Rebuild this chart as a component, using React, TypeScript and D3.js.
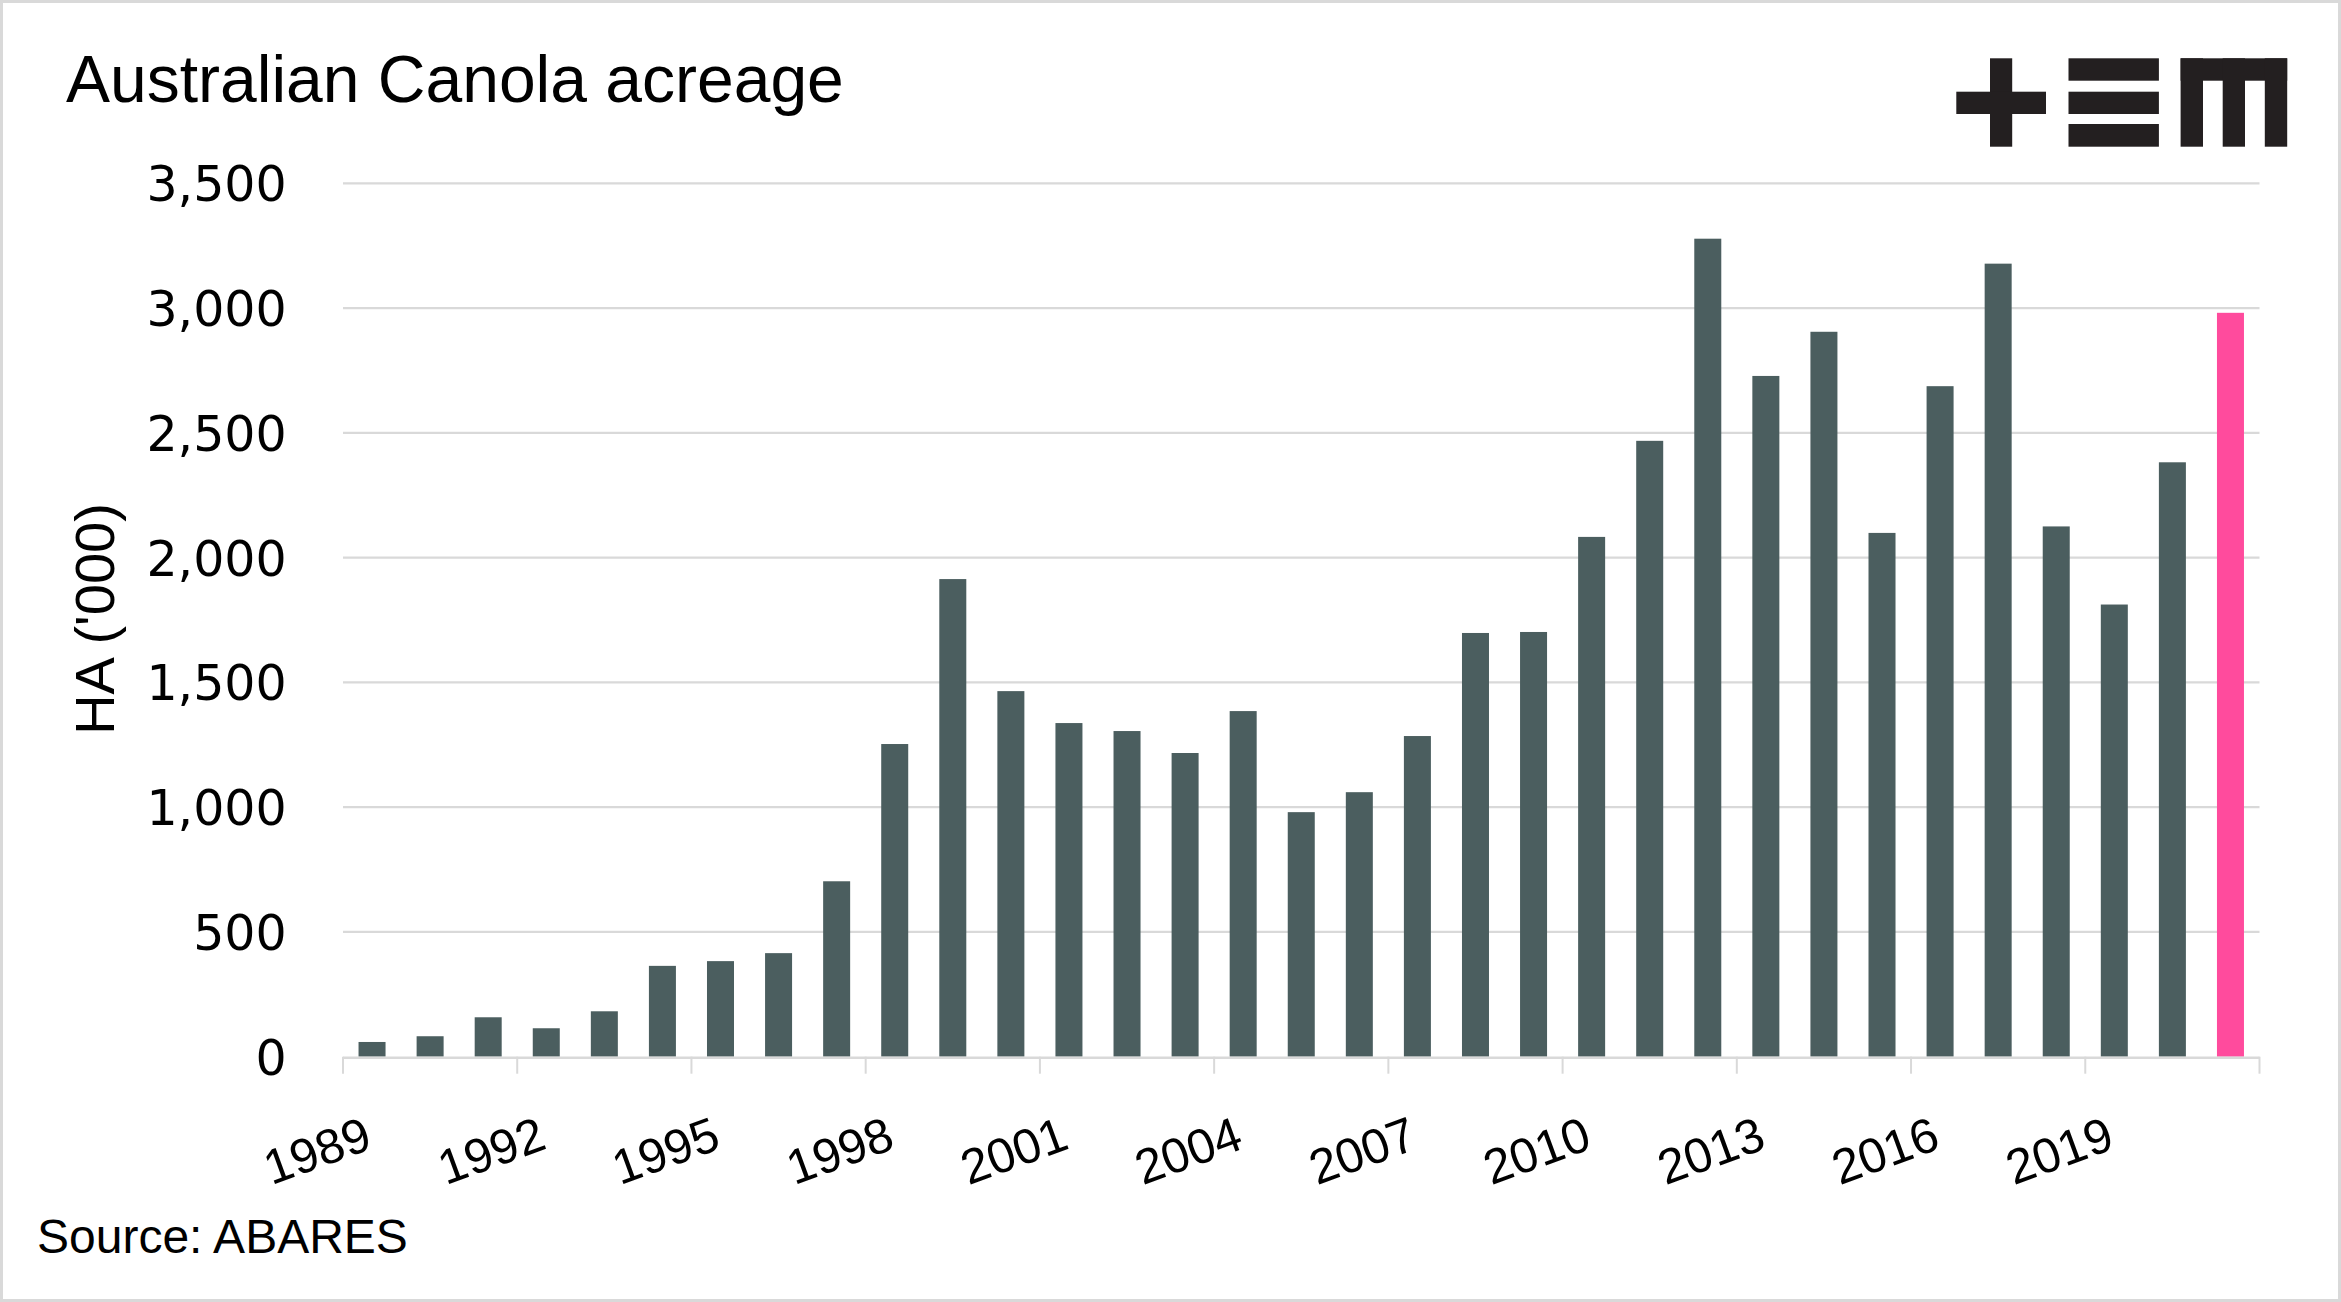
import React from "react";
import * as d3 from "d3";

const years: number[] = d3.range(1989, 2022);
const acreage: number[] = [
  59, 82, 158, 114, 182, 364, 383, 415, 703, 1253, 1914, 1465, 1337, 1305, 1217,
  1385, 980, 1060, 1285, 1698, 1702, 2083, 2468, 3278, 2728, 2905, 2099, 2687,
  3178, 2125, 1812, 2382, 2981,
];
const yTicks: number[] = [0, 500, 1000, 1500, 2000, 2500, 3000, 3500];
const xLabelYears: number[] = [1989, 1992, 1995, 1998, 2001, 2004, 2007, 2010, 2013, 2016, 2019];
const highlightYear = 2021;

const title = "Australian Canola acreage";
const yTitle = "HA ('000)";
const source = "Source: ABARES";

const W = 2341;
const H = 1302;
const left = 343;
const right = 2259.5;
const top = 183.3;
const bottom = 1056.7;

const BAR = "#4b5e5f";
const PINK = "#ff4b9d";
const GRID = "#d9d9d9";
const SANS = "'Liberation Sans', Arial, sans-serif";
const WIDE = "'DejaVu Sans', Verdana, sans-serif";

export default function App() {
  const x = d3
    .scaleBand<number>()
    .domain(years)
    .range([left, right])
    .paddingInner(0.535)
    .paddingOuter(0.2675);
  const y = d3.scaleLinear().domain([0, 3500]).range([bottom, top]);
  const fmt = d3.format(",");
  const step = x.step();
  const boundaries = d3.range(0, years.length + 1, 3).map((i) => left + i * step);

  return (
    <div style={{ position: "absolute", left: 0, top: 0 }}>
      <svg width={W} height={H} viewBox={`0 0 ${W} ${H}`} style={{ display: "block" }}>
        <rect x={0} y={0} width={W} height={H} fill="#ffffff" />
        <rect x={1.5} y={1.5} width={W - 3} height={H - 3} fill="none" stroke={GRID} strokeWidth={3} />

        <text x={66} y={102} fontFamily={SANS} fontSize={66} fill="#000">
          {title}
        </text>

        {/* logo */}
        <g fill="#231f20">
          <rect x={1990} y={58.3} width={22.2} height={88.4} />
          <rect x={1956.3} y={91.7} width={89.7} height={22.3} />
          <rect x={2068.5} y={58.3} width={90.4} height={22.4} />
          <rect x={2068.5} y={91.7} width={90.4} height={22.3} />
          <rect x={2068.5} y={124} width={90.4} height={22.7} />
          <rect x={2180.6} y={58.3} width={106.6} height={22.4} />
          <rect x={2180.6} y={58.3} width={22.4} height={88.4} />
          <rect x={2222.7} y={58.3} width={22.3} height={88.4} />
          <rect x={2264.8} y={58.3} width={22.4} height={88.4} />
        </g>

        {/* gridlines */}
        {yTicks
          .filter((t) => t > 0)
          .map((t) => (
            <line key={t} x1={left} x2={right} y1={y(t)} y2={y(t)} stroke={GRID} strokeWidth={2.2} />
          ))}

        {/* y labels */}
        {yTicks.map((t) => (
          <text
            key={t}
            x={286.7}
            y={y(t) + 18}
            textAnchor="end"
            fontFamily={WIDE}
            fontSize={49}
            fill="#000"
          >
            {fmt(t)}
          </text>
        ))}

        <text
          transform={`translate(114,619) rotate(-90)`}
          textAnchor="middle"
          fontFamily={SANS}
          fontSize={56}
          fill="#000"
        >
          {yTitle}
        </text>

        {/* bars */}
        {years.map((yr, i) => (
          <rect
            key={yr}
            x={x(yr)}
            y={y(acreage[i])}
            width={x.bandwidth()}
            height={bottom - y(acreage[i])}
            fill={yr === highlightYear ? PINK : BAR}
          />
        ))}

        {/* x axis */}
        <line x1={left} x2={right} y1={bottom + 1} y2={bottom + 1} stroke={GRID} strokeWidth={2.5} />
        {boundaries.map((bx, i) => (
          <line key={i} x1={bx} x2={bx} y1={bottom} y2={bottom + 17} stroke={GRID} strokeWidth={2} />
        ))}
        {xLabelYears.map((yr) => {
          const cx = (x(yr) as number) + x.bandwidth() / 2 + 2;
          return (
            <text
              key={yr}
              transform={`translate(${cx},1148) rotate(-20)`}
              textAnchor="end"
              fontFamily={SANS}
              fontSize={49}
              fill="#000"
            >
              {yr}
            </text>
          );
        })}

        <text x={37} y={1253} fontFamily={SANS} fontSize={48} fill="#000">
          {source}
        </text>
      </svg>
    </div>
  );
}
